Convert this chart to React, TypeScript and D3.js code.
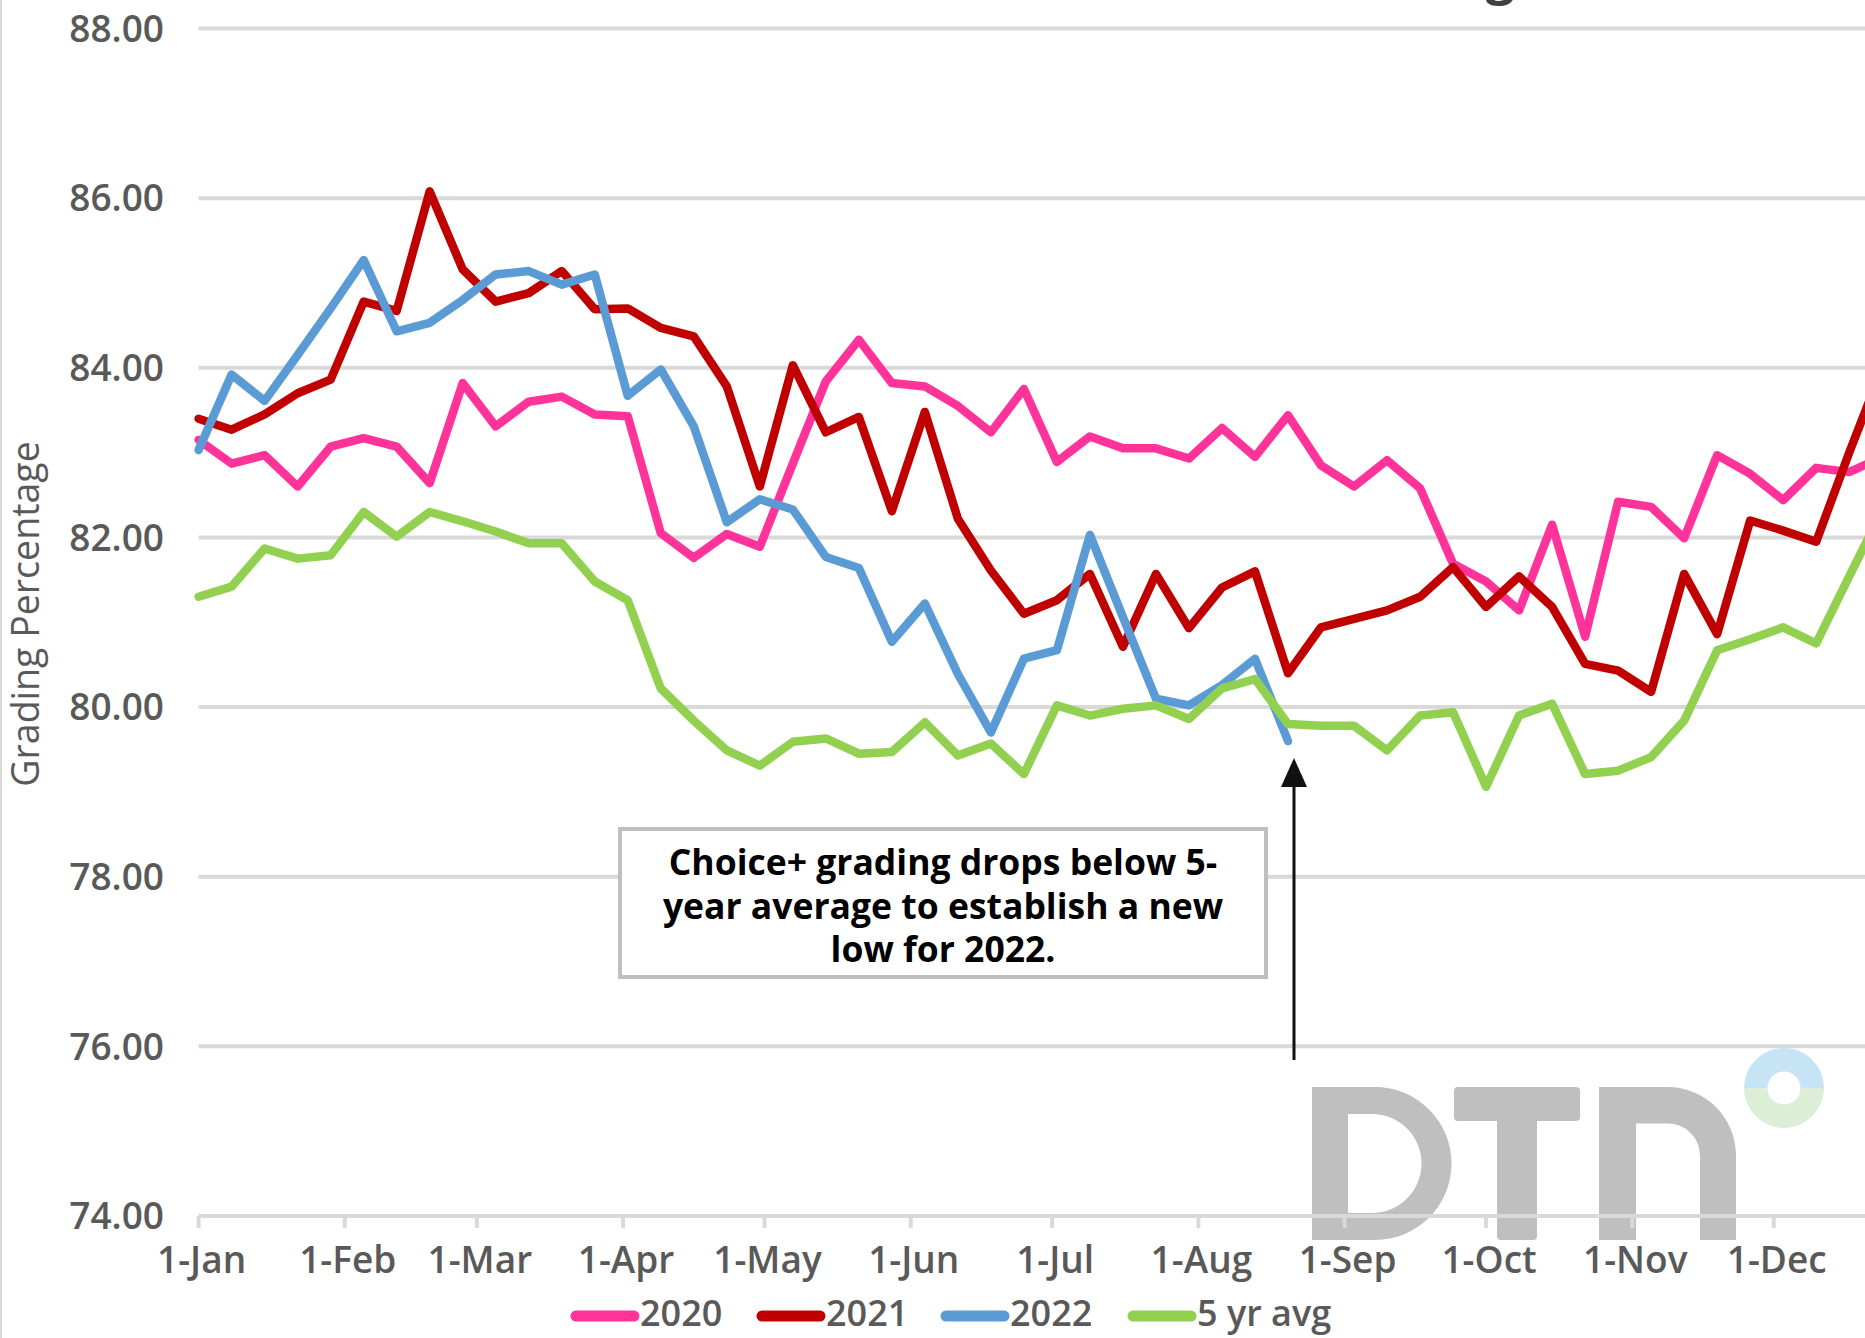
import * as d3 from 'd3';

// weekly Choice+ grading percentage, one value per week starting 1-Jan
const grading2020 = [
  83.15, 82.87, 82.97, 82.6, 83.07, 83.17, 83.07, 82.64, 83.82, 83.31, 83.6, 83.66, 83.45,
  83.43, 82.05, 81.76, 82.04, 81.89, 82.87, 83.84, 84.33, 83.82, 83.78, 83.55, 83.24, 83.75,
  82.89, 83.19, 83.05, 83.05, 82.93, 83.29, 82.95, 83.44, 82.85, 82.6, 82.91, 82.58, 81.69,
  81.48, 81.14, 82.15, 80.83, 82.42, 82.36, 81.99, 82.97, 82.75, 82.44, 82.82, 82.77, 82.95,
];
const grading2021 = [
  83.4, 83.27, 83.45, 83.7, 83.86, 84.78, 84.67, 86.08, 85.16, 84.78, 84.88, 85.14, 84.69,
  84.7, 84.47, 84.37, 83.78, 82.6, 84.03, 83.24, 83.42, 82.31, 83.48, 82.22, 81.61, 81.1,
  81.26, 81.57, 80.71, 81.57, 80.93, 81.41, 81.6, 80.4, 80.94, 81.04, 81.14, 81.3, 81.65,
  81.18, 81.54, 81.18, 80.51, 80.43, 80.18, 81.57, 80.86, 82.2, 82.08, 81.95, 83.0, 84.0,
];
const grading2022 = [
  83.03, 83.92, 83.61, 84.15, 84.7, 85.27, 84.43, 84.53, 84.8, 85.1, 85.14, 84.98, 85.1,
  83.67, 83.98, 83.31, 82.18, 82.45, 82.33, 81.77, 81.64, 80.77, 81.22, 80.39, 79.7, 80.57,
  80.67, 82.03, 81.06, 80.1, 80.02, 80.26, 80.57, 79.6,
];
const grading5yr = [
  81.3, 81.42, 81.87, 81.75, 81.79, 82.3, 82.01, 82.3, 82.19, 82.07, 81.93, 81.93, 81.48,
  81.26, 80.22, 79.84, 79.49, 79.31, 79.59, 79.63, 79.45, 79.47, 79.82, 79.43, 79.57, 79.21,
  80.02, 79.9, 79.98, 80.02, 79.86, 80.22, 80.33, 79.8, 79.78, 79.78, 79.49, 79.9, 79.94,
  79.06, 79.9, 80.04, 79.21, 79.25, 79.41, 79.84, 80.67, 80.8, 80.94, 80.75, 81.54, 82.32,
];

const seriesNames = ['2020', '2021', '2022', '5 yr avg'];
const seriesColors = ['#ff3399', '#c00000', '#5b9bd5', '#92d050'];
const monthLabels = ['1-Jan', '1-Feb', '1-Mar', '1-Apr', '1-May', '1-Jun', '1-Jul', '1-Aug', '1-Sep', '1-Oct', '1-Nov', '1-Dec'];
const yTicks = [74, 76, 78, 80, 82, 84, 86, 88];
const noteLines = ['Choice+ grading drops below 5-', 'year average to establish a new', 'low for 2022.'];

const W = 1865;
const H = 1338;
const plotLeft = 198.6;
const pxPerDay = 4.716;
const plotTop = 28.5;
const plotBottom = 1216;

const FONT = '"Open Sans", "Noto Sans", sans-serif';
const GRID = '#d9d9d9';
const LABEL = '#595959';

export default function App() {
  const start = new Date(Date.UTC(2021, 0, 1));
  const end = new Date(Date.UTC(2022, 0, 1));

  const x = d3.scaleUtc().domain([start, end]).range([plotLeft, plotLeft + 365 * pxPerDay]);
  const y = d3.scaleLinear().domain([74, 88]).range([plotBottom, plotTop]);

  const weekDate = (i: number) => d3.utcDay.offset(start, i * 7);
  const monthTicks = d3.utcMonth.range(start, end);

  const line = d3
    .line<number>()
    .x((_, i) => x(weekDate(i)))
    .y((d) => y(d));

  const series = [grading2020, grading2021, grading2022, grading5yr];

  // DTN watermark ring
  const ringArc = d3.arc<{ a0: number; a1: number }>()
    .innerRadius(16.5)
    .outerRadius(40)
    .startAngle((d) => d.a0)
    .endAngle((d) => d.a1);

  // annotation arrow sits under the last 2022 point
  const lastIdx = grading2022.length - 1;
  const arrowX = x(weekDate(lastIdx)) + 6;
  const arrowTip = 758;

  const legendStarts = [571, 757, 941, 1128];

  return (
    <svg
      width={W}
      height={H}
      style={{ position: 'absolute', left: 0, top: 0, display: 'block', background: '#fff' }}
    >
      {/* chart border, cropped */}
      <line x1={1} y1={0} x2={1} y2={H} stroke={GRID} strokeWidth={2} />

      {/* title, cropped by the top edge in the source */}
      <text x={1515} y={-7} textAnchor="end" fontFamily={FONT} fontWeight={700} fontSize={52} fill="#404040">
        Choice+ Grading
      </text>

      {/* ── DTN watermark ── */}
      <g fill="#bfbfbf">
        <path
          fillRule="evenodd"
          d="M1312,1087 H1375 A76.5,76.5 0 0 1 1375,1240 H1312 Z M1348,1114 V1213 H1372 A49.5,49.5 0 0 0 1372,1114 Z"
        />
        <rect x={1454} y={1087} width={126} height={34} rx={4} />
        <rect x={1497} y={1087} width={40} height={153} rx={4} />
        <path d="M1599,1240 V1087 H1667.5 A68.5,68.5 0 0 1 1736,1155.5 V1240 H1700 V1155.5 A32,32 0 0 0 1667.5,1123.5 H1636 V1240 Z" />
      </g>
      <g transform="translate(1784,1088)">
        <path d={ringArc({ a0: -Math.PI / 2, a1: Math.PI / 2 }) ?? ''} fill="#c6e4f5" />
        <path d={ringArc({ a0: Math.PI / 2, a1: (3 * Math.PI) / 2 }) ?? ''} fill="#dcefd6" />
      </g>

      {/* ── Gridlines ── */}
      {yTicks.map((t) => (
        <line key={t} x1={plotLeft} x2={W} y1={y(t)} y2={y(t)} stroke={GRID} strokeWidth={4} />
      ))}

      {/* ── Y labels ── */}
      {yTicks.map((t) => (
        <text
          key={t}
          x={164}
          y={y(t)}
          dy="0.36em"
          textAnchor="end"
          fontFamily={FONT}
          fontWeight={600}
          fontSize={37}
          fill={LABEL}
        >
          {t.toFixed(2)}
        </text>
      ))}

      <text
        transform={`translate(39,614) rotate(-90)`}
        textAnchor="middle"
        fontFamily={FONT}
        fontSize={37.5}
        fill={LABEL}
      >
        Grading Percentage
      </text>

      {/* ── X ticks + labels ── */}
      {monthTicks.map((d, i) => (
        <g key={i}>
          <line x1={x(d)} x2={x(d)} y1={plotBottom} y2={plotBottom + 12} stroke={GRID} strokeWidth={4} />
          <text
            x={x(d) + 3}
            y={1273}
            textAnchor="middle"
            fontFamily={FONT}
            fontWeight={600}
            fontSize={37}
            fill={LABEL}
          >
            {monthLabels[i]}
          </text>
        </g>
      ))}

      {/* ── Series ── */}
      {series.map((s, k) => (
        <path
          key={seriesNames[k]}
          d={line(s) ?? ''}
          fill="none"
          stroke={seriesColors[k]}
          strokeWidth={8.5}
          strokeLinejoin="round"
          strokeLinecap="round"
        />
      ))}

      {/* ── Annotation ── */}
      <rect x={620} y={829} width={646} height={148} fill="#fff" stroke="#bfbfbf" strokeWidth={4} />
      {noteLines.map((t, i) => (
        <text
          key={i}
          x={943}
          y={875 + i * 43.5}
          textAnchor="middle"
          fontFamily={FONT}
          fontWeight={700}
          fontSize={35.5}
          fill="#000"
        >
          {t}
        </text>
      ))}
      <line x1={arrowX} x2={arrowX} y1={1060} y2={arrowTip + 24} stroke="#111" strokeWidth={3} />
      <path
        d={`M${arrowX},${arrowTip} L${arrowX - 13},${arrowTip + 29} L${arrowX + 13},${arrowTip + 29} Z`}
        fill="#111"
      />

      {/* ── Legend ── */}
      {seriesNames.map((name, k) => (
        <g key={name}>
          <line
            x1={legendStarts[k] + 5}
            x2={legendStarts[k] + 63}
            y1={1316}
            y2={1316}
            stroke={seriesColors[k]}
            strokeWidth={11}
            strokeLinecap="round"
          />
          <text
            x={legendStarts[k] + 69}
            y={1326}
            fontFamily={FONT}
            fontWeight={600}
            fontSize={36}
            fill={LABEL}
          >
            {name}
          </text>
        </g>
      ))}
    </svg>
  );
}
